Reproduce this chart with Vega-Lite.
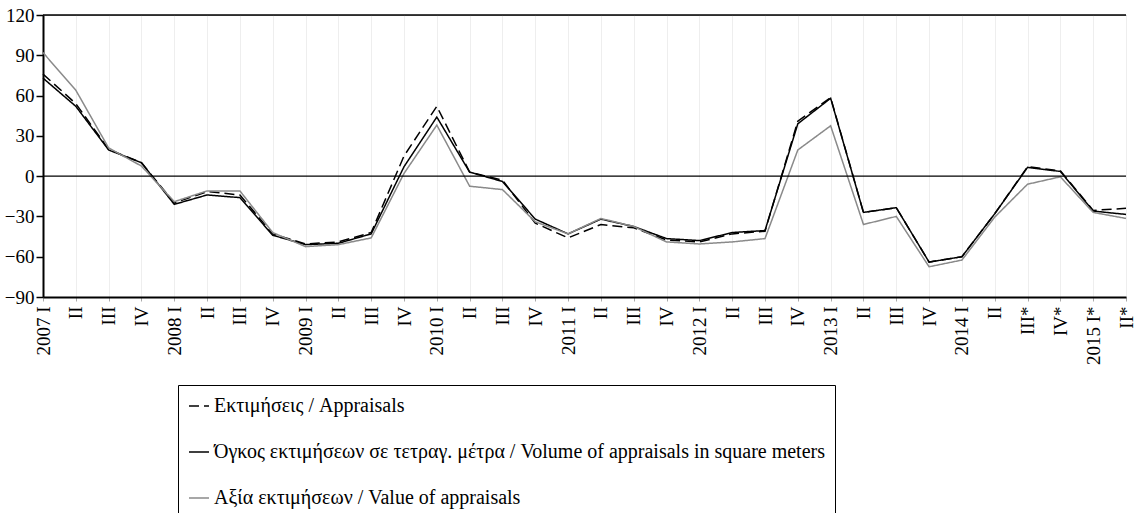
{
  "$schema": "https://vega.github.io/schema/vega-lite/v6.json",
  "width": 1083,
  "height": 282,
  "autosize": {"type": "none"},
  "padding": {"left": 43, "top": 15, "right": 11, "bottom": 216},
  "background": "white",
  "config": {
    "font": "Liberation Serif",
    "view": {"stroke": "#b0b0b0", "strokeWidth": 1},
    "legend": {
      "orient": "none",
      "legendX": 135,
      "legendY": 370,
      "direction": "vertical",
      "strokeColor": "black",
      "fillColor": "white",
      "padding": 10,
      "symbolType": "stroke",
      "symbolSize": 400,
      "symbolStrokeWidth": 1.5,
      "labelFont": "Liberation Serif",
      "labelFontSize": 20,
      "labelColor": "black",
      "labelLimit": 0,
      "rowPadding": 25
    }
  },
  "data": {
    "values": [
      {"q": "2007 I", "series": "Εκτιμήσεις / Appraisals", "value": 76},
      {"q": "2007 II", "series": "Εκτιμήσεις / Appraisals", "value": 54},
      {"q": "2007 III", "series": "Εκτιμήσεις / Appraisals", "value": 20},
      {"q": "2007 IV", "series": "Εκτιμήσεις / Appraisals", "value": 10},
      {"q": "2008 I", "series": "Εκτιμήσεις / Appraisals", "value": -20},
      {"q": "2008 II", "series": "Εκτιμήσεις / Appraisals", "value": -11.5},
      {"q": "2008 III", "series": "Εκτιμήσεις / Appraisals", "value": -14},
      {"q": "2008 IV", "series": "Εκτιμήσεις / Appraisals", "value": -43},
      {"q": "2009 I", "series": "Εκτιμήσεις / Appraisals", "value": -50.5},
      {"q": "2009 II", "series": "Εκτιμήσεις / Appraisals", "value": -49},
      {"q": "2009 III", "series": "Εκτιμήσεις / Appraisals", "value": -42},
      {"q": "2009 IV", "series": "Εκτιμήσεις / Appraisals", "value": 15},
      {"q": "2010 I", "series": "Εκτιμήσεις / Appraisals", "value": 52},
      {"q": "2010 II", "series": "Εκτιμήσεις / Appraisals", "value": 3},
      {"q": "2010 III", "series": "Εκτιμήσεις / Appraisals", "value": -3},
      {"q": "2010 IV", "series": "Εκτιμήσεις / Appraisals", "value": -35},
      {"q": "2011 I", "series": "Εκτιμήσεις / Appraisals", "value": -46},
      {"q": "2011 II", "series": "Εκτιμήσεις / Appraisals", "value": -36},
      {"q": "2011 III", "series": "Εκτιμήσεις / Appraisals", "value": -38.5},
      {"q": "2011 IV", "series": "Εκτιμήσεις / Appraisals", "value": -47.5},
      {"q": "2012 I", "series": "Εκτιμήσεις / Appraisals", "value": -49},
      {"q": "2012 II", "series": "Εκτιμήσεις / Appraisals", "value": -43},
      {"q": "2012 III", "series": "Εκτιμήσεις / Appraisals", "value": -41},
      {"q": "2012 IV", "series": "Εκτιμήσεις / Appraisals", "value": 41},
      {"q": "2013 I", "series": "Εκτιμήσεις / Appraisals", "value": 58.5},
      {"q": "2013 II", "series": "Εκτιμήσεις / Appraisals", "value": -27},
      {"q": "2013 III", "series": "Εκτιμήσεις / Appraisals", "value": -23.5},
      {"q": "2013 IV", "series": "Εκτιμήσεις / Appraisals", "value": -64},
      {"q": "2014 I", "series": "Εκτιμήσεις / Appraisals", "value": -60},
      {"q": "2014 II", "series": "Εκτιμήσεις / Appraisals", "value": -28},
      {"q": "2014 III*", "series": "Εκτιμήσεις / Appraisals", "value": 7},
      {"q": "2014 IV*", "series": "Εκτιμήσεις / Appraisals", "value": 4},
      {"q": "2015 I*", "series": "Εκτιμήσεις / Appraisals", "value": -25.5},
      {"q": "2015 II*", "series": "Εκτιμήσεις / Appraisals", "value": -24},

      {"q": "2007 I", "series": "Όγκος εκτιμήσεων σε τετραγ. μέτρα / Volume of appraisals in square meters", "value": 73},
      {"q": "2007 II", "series": "Όγκος εκτιμήσεων σε τετραγ. μέτρα / Volume of appraisals in square meters", "value": 52},
      {"q": "2007 III", "series": "Όγκος εκτιμήσεων σε τετραγ. μέτρα / Volume of appraisals in square meters", "value": 19.5},
      {"q": "2007 IV", "series": "Όγκος εκτιμήσεων σε τετραγ. μέτρα / Volume of appraisals in square meters", "value": 10},
      {"q": "2008 I", "series": "Όγκος εκτιμήσεων σε τετραγ. μέτρα / Volume of appraisals in square meters", "value": -21},
      {"q": "2008 II", "series": "Όγκος εκτιμήσεων σε τετραγ. μέτρα / Volume of appraisals in square meters", "value": -14},
      {"q": "2008 III", "series": "Όγκος εκτιμήσεων σε τετραγ. μέτρα / Volume of appraisals in square meters", "value": -16},
      {"q": "2008 IV", "series": "Όγκος εκτιμήσεων σε τετραγ. μέτρα / Volume of appraisals in square meters", "value": -44},
      {"q": "2009 I", "series": "Όγκος εκτιμήσεων σε τετραγ. μέτρα / Volume of appraisals in square meters", "value": -51},
      {"q": "2009 II", "series": "Όγκος εκτιμήσεων σε τετραγ. μέτρα / Volume of appraisals in square meters", "value": -50},
      {"q": "2009 III", "series": "Όγκος εκτιμήσεων σε τετραγ. μέτρα / Volume of appraisals in square meters", "value": -43},
      {"q": "2009 IV", "series": "Όγκος εκτιμήσεων σε τετραγ. μέτρα / Volume of appraisals in square meters", "value": 7},
      {"q": "2010 I", "series": "Όγκος εκτιμήσεων σε τετραγ. μέτρα / Volume of appraisals in square meters", "value": 44},
      {"q": "2010 II", "series": "Όγκος εκτιμήσεων σε τετραγ. μέτρα / Volume of appraisals in square meters", "value": 3},
      {"q": "2010 III", "series": "Όγκος εκτιμήσεων σε τετραγ. μέτρα / Volume of appraisals in square meters", "value": -4},
      {"q": "2010 IV", "series": "Όγκος εκτιμήσεων σε τετραγ. μέτρα / Volume of appraisals in square meters", "value": -32},
      {"q": "2011 I", "series": "Όγκος εκτιμήσεων σε τετραγ. μέτρα / Volume of appraisals in square meters", "value": -43},
      {"q": "2011 II", "series": "Όγκος εκτιμήσεων σε τετραγ. μέτρα / Volume of appraisals in square meters", "value": -32},
      {"q": "2011 III", "series": "Όγκος εκτιμήσεων σε τετραγ. μέτρα / Volume of appraisals in square meters", "value": -37.5},
      {"q": "2011 IV", "series": "Όγκος εκτιμήσεων σε τετραγ. μέτρα / Volume of appraisals in square meters", "value": -46.5},
      {"q": "2012 I", "series": "Όγκος εκτιμήσεων σε τετραγ. μέτρα / Volume of appraisals in square meters", "value": -48},
      {"q": "2012 II", "series": "Όγκος εκτιμήσεων σε τετραγ. μέτρα / Volume of appraisals in square meters", "value": -42},
      {"q": "2012 III", "series": "Όγκος εκτιμήσεων σε τετραγ. μέτρα / Volume of appraisals in square meters", "value": -40.5},
      {"q": "2012 IV", "series": "Όγκος εκτιμήσεων σε τετραγ. μέτρα / Volume of appraisals in square meters", "value": 39},
      {"q": "2013 I", "series": "Όγκος εκτιμήσεων σε τετραγ. μέτρα / Volume of appraisals in square meters", "value": 58},
      {"q": "2013 II", "series": "Όγκος εκτιμήσεων σε τετραγ. μέτρα / Volume of appraisals in square meters", "value": -27},
      {"q": "2013 III", "series": "Όγκος εκτιμήσεων σε τετραγ. μέτρα / Volume of appraisals in square meters", "value": -23.5},
      {"q": "2013 IV", "series": "Όγκος εκτιμήσεων σε τετραγ. μέτρα / Volume of appraisals in square meters", "value": -64},
      {"q": "2014 I", "series": "Όγκος εκτιμήσεων σε τετραγ. μέτρα / Volume of appraisals in square meters", "value": -60},
      {"q": "2014 II", "series": "Όγκος εκτιμήσεων σε τετραγ. μέτρα / Volume of appraisals in square meters", "value": -28},
      {"q": "2014 III*", "series": "Όγκος εκτιμήσεων σε τετραγ. μέτρα / Volume of appraisals in square meters", "value": 6.5},
      {"q": "2014 IV*", "series": "Όγκος εκτιμήσεων σε τετραγ. μέτρα / Volume of appraisals in square meters", "value": 3.5},
      {"q": "2015 I*", "series": "Όγκος εκτιμήσεων σε τετραγ. μέτρα / Volume of appraisals in square meters", "value": -26},
      {"q": "2015 II*", "series": "Όγκος εκτιμήσεων σε τετραγ. μέτρα / Volume of appraisals in square meters", "value": -28.5},

      {"q": "2007 I", "series": "Αξία εκτιμήσεων / Value of appraisals", "value": 92},
      {"q": "2007 II", "series": "Αξία εκτιμήσεων / Value of appraisals", "value": 64},
      {"q": "2007 III", "series": "Αξία εκτιμήσεων / Value of appraisals", "value": 21},
      {"q": "2007 IV", "series": "Αξία εκτιμήσεων / Value of appraisals", "value": 7.5},
      {"q": "2008 I", "series": "Αξία εκτιμήσεων / Value of appraisals", "value": -19},
      {"q": "2008 II", "series": "Αξία εκτιμήσεων / Value of appraisals", "value": -11},
      {"q": "2008 III", "series": "Αξία εκτιμήσεων / Value of appraisals", "value": -11},
      {"q": "2008 IV", "series": "Αξία εκτιμήσεων / Value of appraisals", "value": -42},
      {"q": "2009 I", "series": "Αξία εκτιμήσεων / Value of appraisals", "value": -52.5},
      {"q": "2009 II", "series": "Αξία εκτιμήσεων / Value of appraisals", "value": -51},
      {"q": "2009 III", "series": "Αξία εκτιμήσεων / Value of appraisals", "value": -46},
      {"q": "2009 IV", "series": "Αξία εκτιμήσεων / Value of appraisals", "value": 2},
      {"q": "2010 I", "series": "Αξία εκτιμήσεων / Value of appraisals", "value": 38},
      {"q": "2010 II", "series": "Αξία εκτιμήσεων / Value of appraisals", "value": -7.5},
      {"q": "2010 III", "series": "Αξία εκτιμήσεων / Value of appraisals", "value": -10},
      {"q": "2010 IV", "series": "Αξία εκτιμήσεων / Value of appraisals", "value": -34},
      {"q": "2011 I", "series": "Αξία εκτιμήσεων / Value of appraisals", "value": -43},
      {"q": "2011 II", "series": "Αξία εκτιμήσεων / Value of appraisals", "value": -31.5},
      {"q": "2011 III", "series": "Αξία εκτιμήσεων / Value of appraisals", "value": -37.5},
      {"q": "2011 IV", "series": "Αξία εκτιμήσεων / Value of appraisals", "value": -49},
      {"q": "2012 I", "series": "Αξία εκτιμήσεων / Value of appraisals", "value": -50.5},
      {"q": "2012 II", "series": "Αξία εκτιμήσεων / Value of appraisals", "value": -49},
      {"q": "2012 III", "series": "Αξία εκτιμήσεων / Value of appraisals", "value": -46.5},
      {"q": "2012 IV", "series": "Αξία εκτιμήσεων / Value of appraisals", "value": 19.5},
      {"q": "2013 I", "series": "Αξία εκτιμήσεων / Value of appraisals", "value": 37.5},
      {"q": "2013 II", "series": "Αξία εκτιμήσεων / Value of appraisals", "value": -36},
      {"q": "2013 III", "series": "Αξία εκτιμήσεων / Value of appraisals", "value": -30},
      {"q": "2013 IV", "series": "Αξία εκτιμήσεων / Value of appraisals", "value": -67.5},
      {"q": "2014 I", "series": "Αξία εκτιμήσεων / Value of appraisals", "value": -62.5},
      {"q": "2014 II", "series": "Αξία εκτιμήσεων / Value of appraisals", "value": -30.5},
      {"q": "2014 III*", "series": "Αξία εκτιμήσεων / Value of appraisals", "value": -6},
      {"q": "2014 IV*", "series": "Αξία εκτιμήσεων / Value of appraisals", "value": -0.5},
      {"q": "2015 I*", "series": "Αξία εκτιμήσεων / Value of appraisals", "value": -27},
      {"q": "2015 II*", "series": "Αξία εκτιμήσεων / Value of appraisals", "value": -31.5}
    ]
  },
  "layer": [
    {
      "mark": {"type": "line", "strokeWidth": 1.5, "strokeJoin": "miter"},
      "encoding": {
        "x": {
          "field": "q",
          "type": "ordinal",
          "sort": null,
          "scale": {"type": "point", "padding": 0},
          "axis": {
            "title": null,
            "labelAngle": -90,
            "labelAlign": "right",
            "labelBaseline": "middle",
            "labelPadding": 5,
            "labelFontSize": 19,
            "labelColor": "black",
            "labelFont": "Liberation Serif",
            "labelOverlap": false,
            "labelExpr": "(split(datum.label, ' ')[1] == 'I' || split(datum.label, ' ')[1] == 'I*') ? datum.label : split(datum.label, ' ')[1]",
            "domainColor": "black",
            "domainWidth": 2,
            "tickColor": "#aaaaaa",
            "tickSize": 4,
            "grid": true,
            "gridColor": "#eeeeee",
            "gridWidth": 1
          }
        },
        "y": {
          "field": "value",
          "type": "quantitative",
          "scale": {"domain": [-90, 120], "nice": false, "zero": false},
          "axis": {
            "title": null,
            "values": [-90, -60, -30, 0, 30, 60, 90, 120],
            "grid": false,
            "labelFontSize": 19,
            "labelColor": "black",
            "labelFont": "Liberation Serif",
            "labelPadding": 2,
            "labelOverlap": false,
            "domainColor": "black",
            "domainWidth": 2,
            "tickColor": "black",
            "tickWidth": 1.5,
            "tickSize": 7
          }
        },
        "color": {
          "field": "series",
          "type": "nominal",
          "title": null,
          "legend": {"labelFont": "Liberation Serif", "labelFontSize": 20, "labelColor": "black", "labelLimit": 0},
          "scale": {
            "domain": ["Εκτιμήσεις / Appraisals", "Όγκος εκτιμήσεων σε τετραγ. μέτρα / Volume of appraisals in square meters", "Αξία εκτιμήσεων / Value of appraisals"],
            "range": ["#000000", "#000000", "#8a8a8a"]
          }
        },
        "strokeDash": {
          "field": "series",
          "type": "nominal",
          "title": null,
          "legend": {"labelFont": "Liberation Serif", "labelFontSize": 20, "labelColor": "black", "labelLimit": 0},
          "scale": {
            "domain": ["Εκτιμήσεις / Appraisals", "Όγκος εκτιμήσεων σε τετραγ. μέτρα / Volume of appraisals in square meters", "Αξία εκτιμήσεων / Value of appraisals"],
            "range": [[10, 5], [1, 0], [1, 0]]
          }
        }
      }
    },
    {
      "data": {"values": [{}]},
      "mark": {"type": "rule", "color": "black", "strokeWidth": 1.2},
      "encoding": {"y": {"datum": 0}}
    },
    {
      "data": {"values": [{}]},
      "mark": {"type": "rule", "color": "black", "strokeWidth": 1.5},
      "encoding": {"y": {"datum": 120}}
    }
  ]
}
